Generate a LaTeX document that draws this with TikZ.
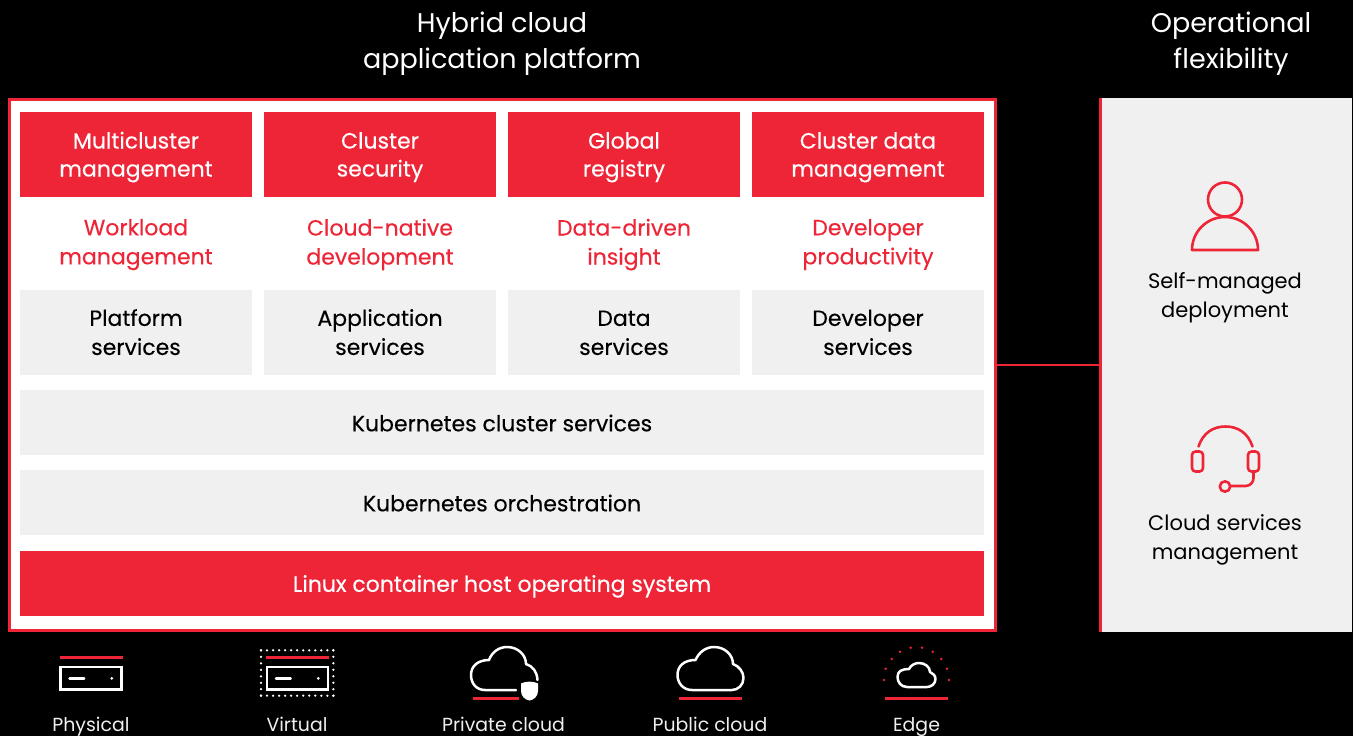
\documentclass[tikz,border=0pt]{standalone}
\usepackage{fontspec}
\setmainfont{Poppins}
\newfontfamily\strongf[FakeBold=0.3]{Poppins}
\definecolor{rhred}{HTML}{EE2536}
\definecolor{rhgrey}{HTML}{F0F0F0}
\tikzset{
 x=1pt,y=-1pt,
 struts/.style={execute at begin node=\strut,execute at end node=\strut},
 tsh/.style 2 args={execute at begin node={\rule{0pt}{#1pt}},execute at end node={\rule[-#2pt]{0pt}{0pt}}},
 box/.style={anchor=center,inner sep=0,minimum width=232pt,minimum height=85pt,align=center,font=\strongf\fontsize{22}{29}\selectfont},
 redbox/.style={box,fill=rhred,text=white},
 greybox/.style={box,fill=rhgrey,text=black},
 widebox/.style={minimum width=964pt,minimum height=65pt},
 toprow/.style={redbox,tsh={54}{10},font=\strongf\fontsize{22}{28}\selectfont},
 greyrow/.style={greybox,tsh={54.8}{10}},
 redlabel/.style={struts,anchor=center,inner sep=0,align=center,text=rhred,font=\strongf\fontsize{22}{29}\selectfont},
 title/.style={struts,anchor=center,inner sep=0,align=center,text=white,font=\fontsize{27}{36}\selectfont},
 sidelabel/.style={struts,anchor=center,inner sep=0,align=center,text=black,font=\fontsize{21}{29}\selectfont},
 envlabel/.style={struts,anchor=center,inner sep=0,text=rhgrey,font=\fontsize{18.9}{24}\selectfont},
 wicon/.style={draw=white,line width=2.5pt,line join=round,line cap=round},
 ricon/.style={draw=rhred,line width=2.6pt,line join=round,line cap=round},
 rline/.style={draw=rhred,line width=2.8pt},
 vdots/.style={white,line width=2.5pt,line cap=round},
}
\newcommand{\serverpic}[1]{%
 \draw[rline] (#1+0,657.3) -- (#1+63,657.3);
 \draw[wicon,line cap=butt,line join=miter] (#1+1.2,667.2) rectangle (#1+61.8,689.6);
 \draw[wicon] (#1+10,678.3) -- (#1+24.7,678.3);
 \fill[white] (#1+52.3,678.3) circle (1.5);
}
\begin{document}
\begin{tikzpicture}
\useasboundingbox (0,0) rectangle (1353,736);
\fill[black] (0,0) rectangle (1353,736);
% panels
\node[draw=rhred,line width=3pt,fill=white,minimum width=985.7pt,minimum height=531pt,inner sep=0,anchor=center] (main) at (502.35,365) {};
\fill[rhgrey] (1100,98) rectangle (1352,632);
\coordinate (sideL) at (1100,365);
\draw[draw=rhred,line width=3pt] (1100,98) -- (1100,632);
\draw[rhred,line width=2.6pt] (main.east |- sideL) -- (sideL);
% titles
\node[title] (t1) at (502,46) {Hybrid cloud\\application platform};
\node[title] (t2) at (1231,46) {Operational\\flexibility};
% top row
\node[toprow] (a1) at (136,154.5) {Multicluster\\management};
\node[toprow] (a2) at (380,154.5) {Cluster\\security};
\node[toprow] (a3) at (624,154.5) {Global\\registry};
\node[toprow] (a4) at (868,154.5) {Cluster data\\management};
% red labels
\node[redlabel] (b1) at (136,246) {Workload\\management};
\node[redlabel] (b2) at (380,246) {Cloud-native\\development};
\node[redlabel] (b3) at (624,246) {Data-driven\\insight};
\node[redlabel] (b4) at (868,246) {Developer\\productivity};
% grey row
\node[greyrow] (c1) at (136,332.5) {Platform\\services};
\node[greyrow] (c2) at (380,332.5) {Application\\services};
\node[greyrow] (c3) at (624,332.5) {Data\\services};
\node[greyrow] (c4) at (868,332.5) {Developer\\services};
% wide rows
\node[greybox,widebox,tsh={26.3}{8.7}] (d1) at (502,422.5) {Kubernetes cluster services};
\node[greybox,widebox,tsh={26.3}{8.7}] (d2) at (502,502.5) {Kubernetes orchestration};
\node[redbox,widebox,tsh={25.3}{8.7}] (d3) at (502,583.5) {Linux container host operating system};
% side labels
\node[sidelabel] (s1) at (1225,299.5) {Self-managed\\deployment};
\node[sidelabel] (s2) at (1225,541.5) {Cloud services\\management};
% person icon
\draw[ricon] (1225,199.5) circle (17);
\draw[ricon] (1192,250) arc[start angle=180,end angle=360,radius=33] -- cycle;
% headset icon
\draw[ricon] (1198.5,446.5) .. controls (1203,433) and (1213,426.5) .. (1225.5,426.5) .. controls (1238,426.5) and (1248,433) .. (1252.5,446.5);
\draw[ricon,rounded corners=3.5pt] (1192,451.5) rectangle (1203,471.5);
\draw[ricon,rounded corners=3.5pt] (1248,451.5) rectangle (1259,471.5);
\draw[ricon] (1253.5,472) -- (1253.5,478) arc[start angle=0,end angle=90,radius=8] -- (1231,486);
\draw[ricon] (1225,486.5) circle (5.2);
% environment icons
\serverpic{59.5}
\serverpic{266}
\draw[vdots,dash pattern=on 0pt off 6.03pt] (261,650.3) -- (333.6,650.3);
\draw[vdots,dash pattern=on 0pt off 6.03pt] (261,695.7) -- (333.6,695.7);
\draw[vdots,dash pattern=on 0pt off 6.49pt] (261,650.3) -- (261,696);
\draw[vdots,dash pattern=on 0pt off 6.49pt] (333.3,650.3) -- (333.3,696);
% private cloud
\draw[wicon] (516,690) -- (485,690) .. controls (476,690) and (471,683) .. (471,675) .. controls (471,666) and (478,660) .. (489,660) .. controls (492,652) and (499,647) .. (507,647) .. controls (518,647) and (526,655) .. (526,664) .. controls (533,666) and (537,672) .. (537.5,680);
\draw[rline] (473,698.5) -- (519,698.5);
\fill[white] (521,683.5) .. controls (526,681) and (533,681) .. (538,683.5) -- (538,691) .. controls (538,696) and (534,700) .. (529.5,700.5) .. controls (525,700) and (521,696) .. (521,691) -- cycle;
% public cloud
\draw[wicon] (692,690) .. controls (683,690) and (677.5,683) .. (677.5,675) .. controls (677.5,666) and (684,660) .. (695.5,660) .. controls (699,652) and (706,647) .. (714,647) .. controls (725,647) and (733,655) .. (733,664) .. controls (739,666) and (743.5,672) .. (743.5,678) .. controls (743.5,685) and (738,690) .. (732,690) -- cycle;
\draw[rline] (679,698.5) -- (742,698.5);
% edge
\draw[wicon] (907,687) .. controls (901,687) and (897.5,682) .. (897.5,677) .. controls (897.5,671) and (902,669) .. (909,669) .. controls (911,665) and (915,663) .. (919,663) .. controls (925,663) and (930,667) .. (930,672) .. controls (933,673) and (935.5,676) .. (935.5,679) .. controls (935.5,684) and (931,687) .. (927,687) -- cycle;
\draw[rline] (885,698.5) -- (948,698.5);
\foreach \dx/\dy in {884/680,885.7/668.7,891.7/659,900/651.7,910.7/647.7,922/647.7,932.7/651.7,941.3/659,947/668.7,949/680}
  \fill[rhred] (\dx,\dy) circle (1.4);
% labels
\node[envlabel] (e1) at (91,727) {Physical};
\node[envlabel] (e2) at (297,727) {Virtual};
\node[envlabel] (e3) at (503.5,727) {Private cloud};
\node[envlabel] (e4) at (710,727) {Public cloud};
\node[envlabel] (e5) at (916.5,727) {Edge};
\end{tikzpicture}
\end{document}
